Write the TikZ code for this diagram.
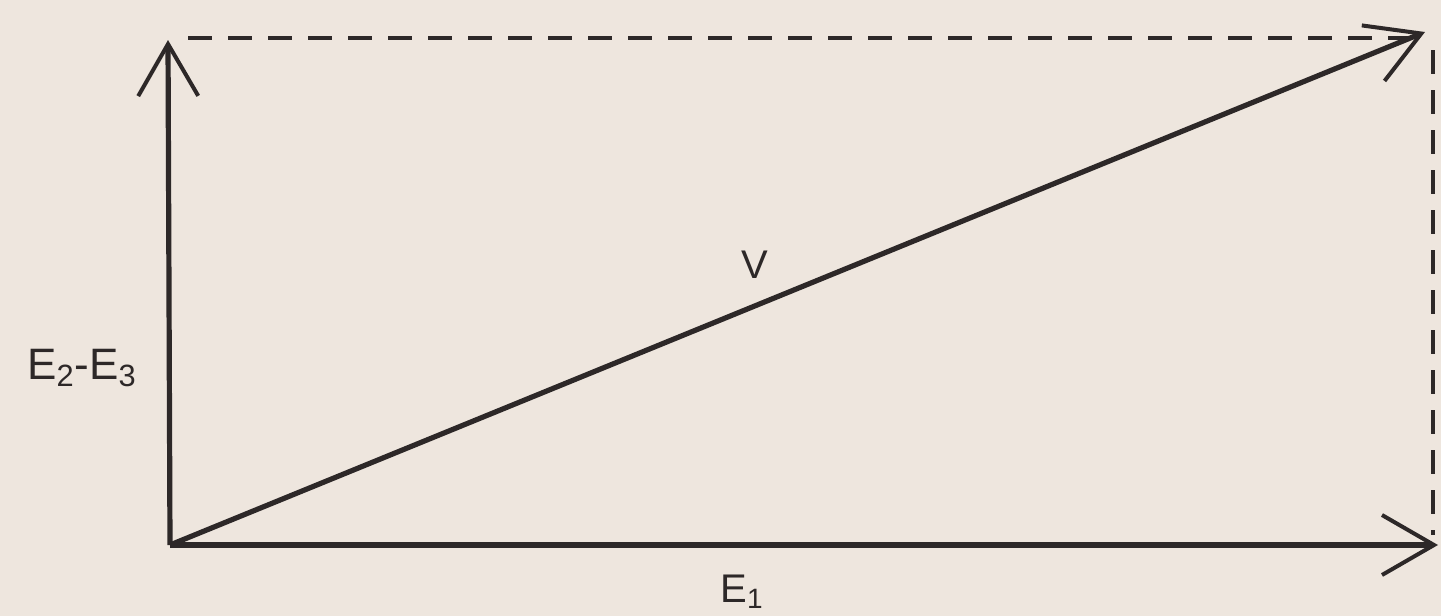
\documentclass[tikz,border=0pt]{standalone}
\usepackage{fontspec}
\setmainfont{Liberation Sans}
\usetikzlibrary{arrows.meta}
\definecolor{paper}{RGB}{238,230,222}
\definecolor{ink}{RGB}{45,40,40}
\tikzset{
  vec/.style={draw=ink, line width=2.6pt, -{Straight Barb[length=26pt,width=30pt,line width=2pt]}},
  guide/.style={draw=ink, line width=1.8pt, dash pattern=on 12pt off 8pt},
  lbl/.style={text=ink, inner sep=0pt, font=\fontsize{20}{24}\selectfont},
  sublbl/.style={text=ink, inner sep=0pt, font=\fontsize{22}{26}\selectfont}
}
\begin{document}
\begin{tikzpicture}[x=0.5pt,y=-0.5pt]
\fill[paper] (0,0) rectangle (1441,616);
\useasboundingbox (0,0) rectangle (1441,616);
\coordinate (O) at (170,545);
\coordinate (Y) at (168,40);
\coordinate (X) at (1438,545);
\coordinate (P) at (1425,32);
\coordinate (TL) at (188,38);
\coordinate (TR) at (1415,38);
\coordinate (RT) at (1433,50);
\coordinate (RB) at (1433,535);
\draw[guide] (TL) -- (TR);
\draw[guide] (RT) -- (RB);
\draw[vec] (O) -- (Y);
\draw[vec] (O) -- (X);
\draw[vec] (O) -- (P);
\node[lbl] (v) at (755,265) {V};
\node[lbl] (e1) at (742,592) {E\textsubscript{1}};
\node[sublbl] (e23) at (82,368) {E\textsubscript{2}-E\textsubscript{3}};
\end{tikzpicture}
\end{document}
